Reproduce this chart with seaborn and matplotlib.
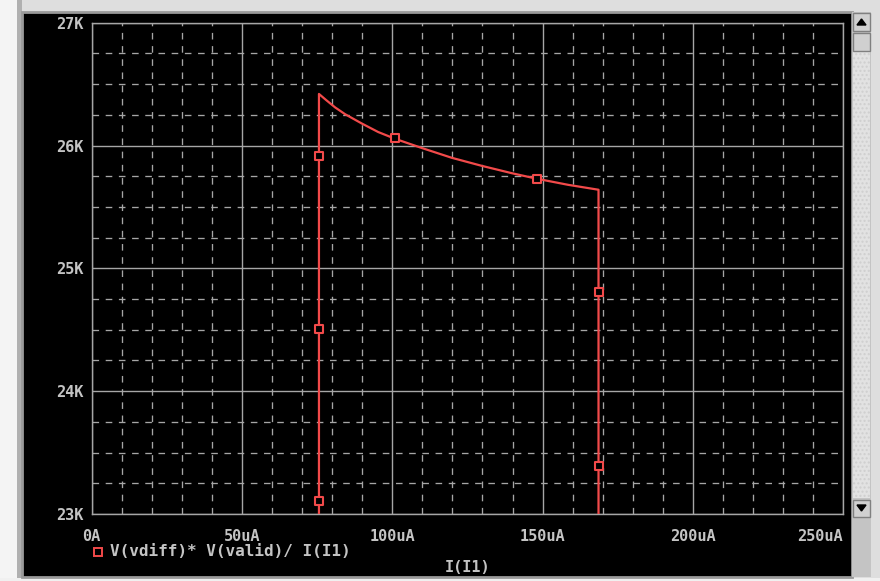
import matplotlib
matplotlib.use("Agg")
import matplotlib.pyplot as plt
import seaborn as sns
import pandas as pd
from matplotlib.patches import Rectangle, Polygon
from matplotlib.lines import Line2D
from matplotlib.ticker import MultipleLocator

# ---------------- data (x in uA, y in kOhm) ----------------
trace_x = [75.6, 75.6, 78.0, 81.0, 84.3, 89.8, 95.3, 100.9, 109.8, 119.8, 129.7,
           139.7, 148.0, 158.5, 168.6, 168.6]
trace_y = [22.6, 26.42, 26.37, 26.31, 26.255, 26.18, 26.11, 26.055, 25.98, 25.90,
           25.835, 25.775, 25.73, 25.68, 25.64, 22.6]

marker_x = [75.6, 75.6, 75.6, 100.9, 148.0, 168.6, 168.6]
marker_y = [23.105, 24.506, 25.915, 26.058, 25.730, 24.81, 23.39]

x_ticks = [0, 50, 100, 150, 200, 250]
x_tick_labels = ["0A", "50uA", "100uA", "150uA", "200uA", "250uA"]
y_ticks = [23, 24, 25, 26, 27]
y_tick_labels = ["23K", "24K", "25K", "26K", "27K"]

legend_label = "V(vdiff)* V(valid)/ I(I1)"
x_label = "I(I1)"

# ---------------- style ----------------
sns.set_style("dark")
plt.rcParams["font.family"] = ["DejaVu Sans Mono", "DejaVu Sans"]
plt.rcParams["font.weight"] = "bold"

W, H = 880, 581
fig = plt.figure(figsize=(W / 100, H / 100), dpi=100)
fig.patch.set_facecolor("#dedede")

def fx(px):
    return px / W

def fy(py):
    return (H - py) / H

GRAY = "#a6a6a6"
TXT = "#c4c4c4"
RED = "#f24a4a"
FS = 11

# outer window bits
fig.add_artist(Rectangle((0, 0), fx(17), 1, transform=fig.transFigure,
                         facecolor="#f4f4f4", edgecolor="none", zorder=-3))
fig.add_artist(Rectangle((fx(17), 0), fx(5), 1, transform=fig.transFigure,
                         facecolor="#b0b0b0", edgecolor="none", zorder=-3))
fig.add_artist(Rectangle((0, 0), 1, fy(578), transform=fig.transFigure,
                         facecolor="#f0f0f0", edgecolor="none", zorder=-3))
# black panel
fig.add_artist(Rectangle((fx(22), fy(577)), fx(852) - fx(22), fy(12) - fy(577),
                         transform=fig.transFigure, facecolor="black",
                         edgecolor="#9a9a9a", linewidth=2, zorder=-2))

# scrollbar
fig.add_artist(Rectangle((fx(852), fy(577)), fx(871) - fx(852), fy(12) - fy(577),
                         transform=fig.transFigure, facecolor="#c4c4c4",
                         edgecolor="none", zorder=-1.5))
fig.add_artist(Rectangle((fx(853), fy(498)), fx(870) - fx(853), fy(52) - fy(498),
                         transform=fig.transFigure, facecolor="#e2e2e2",
                         edgecolor="#cfcfcf", hatch="....", linewidth=0, zorder=-1.4))
for (t, b) in [(13, 31), (33, 51), (500, 517)]:
    fig.add_artist(Rectangle((fx(853), fy(b)), fx(870) - fx(853), fy(t) - fy(b),
                             transform=fig.transFigure, facecolor="#d0d0d0",
                             edgecolor="#808080", linewidth=1, zorder=-1.3))
fig.add_artist(Polygon([[fx(857), fy(25)], [fx(866), fy(25)], [fx(861.5), fy(19)]],
                       closed=True, transform=fig.transFigure, color="black", zorder=-1.2))
fig.add_artist(Polygon([[fx(857), fy(505)], [fx(866), fy(505)], [fx(861.5), fy(511)]],
                       closed=True, transform=fig.transFigure, color="black", zorder=-1.2))

# axes
x0, x1, ytop, ybot = 91.7, 843.2, 22.7, 514.0
ax = fig.add_axes([fx(x0), fy(ybot), fx(x1) - fx(x0), fy(ytop) - fy(ybot)])
ax.set_zorder(2)
ax.set_facecolor("black")
ax.set_xlim(0, 250)
ax.set_ylim(23, 27)

ax.xaxis.set_minor_locator(MultipleLocator(10))
ax.yaxis.set_minor_locator(MultipleLocator(0.25))
ax.grid(which="major", color=GRAY, linewidth=1.0, linestyle="-")
ax.grid(which="minor", color=GRAY, linewidth=0.95, linestyle=(0, (5, 5)))
ax.set_axisbelow(True)
ax.tick_params(which="minor", length=0)

for s in ax.spines.values():
    s.set_color(GRAY)
    s.set_linewidth(1.0)
    s.set_visible(True)

df_line = pd.DataFrame({"I": trace_x, "R": trace_y})
df_mark = pd.DataFrame({"I": marker_x, "R": marker_y})

sns.lineplot(data=df_line, x="I", y="R", sort=False, estimator=None, ax=ax,
             color=RED, linewidth=1.6, zorder=3)
sns.scatterplot(data=df_mark, x="I", y="R", ax=ax, marker="s", s=40,
                facecolor="black", edgecolor=RED, linewidth=1.5, zorder=4)

ax.set_xticks(x_ticks)
ax.set_xticklabels(x_tick_labels)
ax.set_yticks(y_ticks)
ax.set_yticklabels(y_tick_labels)
ax.tick_params(axis="x", which="major", direction="out", length=4.5, width=1,
               color=GRAY, pad=6, labelsize=FS, labelcolor=TXT)
ax.tick_params(axis="y", which="major", direction="out", length=3.6, width=1,
               color=GRAY, pad=2.5, labelsize=FS, labelcolor=TXT)
for lab in ax.get_xticklabels() + ax.get_yticklabels():
    lab.set_fontweight("bold")
ax.get_xticklabels()[-1].set_horizontalalignment("right")
ax.set_xlabel("")
ax.set_ylabel("")

# legend entry
fig.add_artist(Line2D([fx(98.3)], [fy(551.7)], marker="s", markersize=6.2,
                      markerfacecolor="black", markeredgecolor=RED,
                      markeredgewidth=1.4, linestyle="none",
                      transform=fig.transFigure, zorder=5))
fig.text(fx(110), fy(551), legend_label, color=TXT, fontsize=FS + 0.5,
         fontweight="bold", ha="left", va="center", zorder=5)

fig.text(fx(467.5), fy(567.5), x_label, color=TXT, fontsize=FS,
         fontweight="bold", ha="center", va="center", zorder=5)

fig.savefig("out.png", dpi=100, facecolor=fig.get_facecolor())
